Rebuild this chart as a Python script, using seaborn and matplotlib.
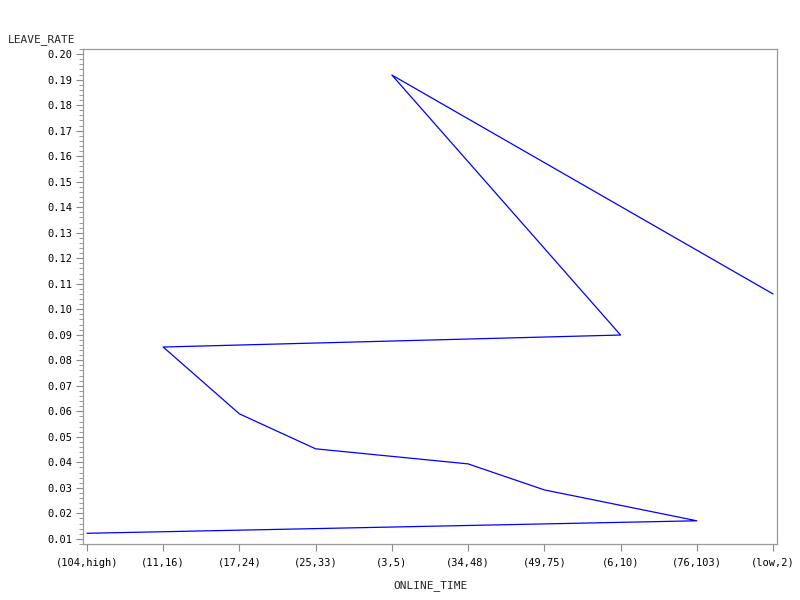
import matplotlib
matplotlib.use("Agg")
import matplotlib.pyplot as plt
import seaborn as sns
import pandas as pd
from matplotlib.ticker import MultipleLocator

# Données : ordre des lignes dans la table (durée en ligne décroissante)
online_time = ["(104,high)", "(76,103)", "(49,75)", "(34,48)", "(25,33)",
               "(17,24)", "(11,16)", "(6,10)", "(3,5)", "(low,2)"]
leave_rate = [0.0122, 0.0171, 0.0292, 0.0394, 0.0453,
              0.0590, 0.0852, 0.0899, 0.1918, 0.1060]

# Axe x : catégories triées par ordre alphabétique
categories = sorted(online_time)

df = pd.DataFrame({"ONLINE_TIME": online_time, "LEAVE_RATE": leave_rate})
df["pos"] = df["ONLINE_TIME"].map({c: i for i, c in enumerate(categories)})

sns.set_theme(style="white")
plt.rcParams["font.family"] = ["DejaVu Sans Mono"]

fig = plt.figure(figsize=(8, 6), dpi=100)
ax = fig.add_axes([83 / 800, 1 - 544 / 600, 694 / 800, 495 / 600])

sns.lineplot(data=df, x="pos", y="LEAVE_RATE", sort=False, estimator=None,
             color="blue", linewidth=0.9, ax=ax)

ax.set_xlim(-0.052, 9.052)
ax.set_ylim(0.008, 0.202)
ax.set_xticks(range(len(categories)))
ax.set_xticklabels(categories, fontsize=7.5)
ax.yaxis.set_major_locator(MultipleLocator(0.01))
ax.yaxis.set_minor_locator(MultipleLocator(0.002))
ax.set_yticklabels([f"{v:.2f}" for v in ax.get_yticks()], fontsize=7.5)
ax.tick_params(axis="both", which="major", length=5, width=0.8, color="#888888",
               direction="out", pad=3, labelcolor="black")
ax.tick_params(axis="x", which="major", pad=5)
ax.tick_params(axis="y", which="minor", length=3, width=0.6, color="#888888",
               direction="out", left=True)
ax.tick_params(axis="x", bottom=True)
ax.tick_params(axis="y", left=True)
for s in ax.spines.values():
    s.set_color("#999999")
    s.set_linewidth(0.9)

ax.set_xlabel("")
ax.set_ylabel("")
fig.text(8 / 800, 1 - 40 / 600, "LEAVE_RATE", fontsize=8, va="center", ha="left")
fig.text(430 / 800, 1 - 586 / 600, "ONLINE_TIME", fontsize=8, va="center", ha="center")

plt.savefig("out.png", dpi=100)
